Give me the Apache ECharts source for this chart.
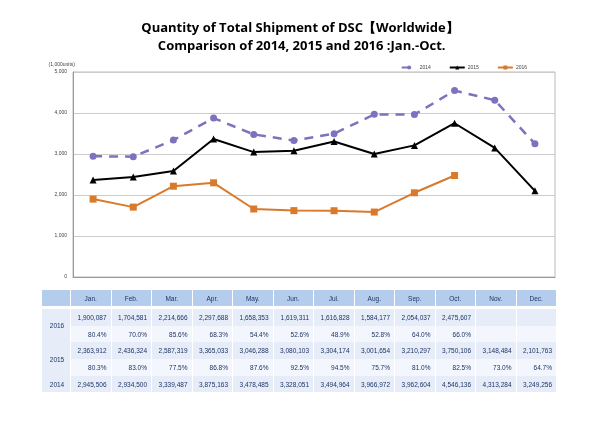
<!DOCTYPE html>
<html>
<head>
<meta charset="utf-8">
<script src="https://cdn.jsdelivr.net/npm/echarts@6/dist/echarts.min.js"></script>
<style>
  html, body { margin: 0; padding: 0; background: #fff; }
  #chart { position: absolute; left: 0; top: 0; width: 600px; height: 424px; }
  #tbl { position: absolute; left: 41px; top: 290px; width: 516px; border-collapse: separate; border-spacing: 1px 0;
         font-family: "Liberation Sans", Arial, sans-serif; font-size: 6.5px; color: #1d3466; table-layout: fixed; }
  #tbl td, #tbl th { height: 16.7px; padding: 0 4px 0 0; text-align: right; font-weight: normal; white-space: nowrap; }
  #tbl th { background: #b5cdec; text-align: center; padding: 0; height: 16px; border-bottom: 3px solid #fff; }
  #tbl td.yr { text-align: center; padding: 0 0 0 2px; }
  #tbl tr.a td { background: #e6edf8; }
  #tbl tr.b td { background: #f3f6fc; }
  #tbl tr.b td.yr, #tbl tr.a td.yr { background: #e6edf8; }
</style>
</head>
<body>
<div id="chart"></div>
<table id="tbl"></table>
<script>
(function () {
  const months = ['Jan.', 'Feb.', 'Mar.', 'Apr.', 'May.', 'Jun.', 'Jul.', 'Aug.', 'Sep.', 'Oct.', 'Nov.', 'Dec.']
  // units shipped
  const ship_2016 = [1900087, 1704581, 2214666, 2297688, 1658353, 1619311, 1616828, 1584177, 2054037, 2475607]
  const ship_2015 = [2363912, 2436324, 2587319, 3365033, 3046288, 3080103, 3304174, 3001654, 3210297, 3750106, 3148484, 2101763]
  const ship_2014 = [2945506, 2934500, 3339487, 3875163, 3478485, 3328051, 3494964, 3966972, 3962604, 4546136, 4313284, 3249256]
  // year-on-year %
  const pct_2016 = [80.4, 70.0, 85.6, 68.3, 54.4, 52.6, 48.9, 52.8, 64.0, 66.0]
  const pct_2015 = [80.3, 83.0, 77.5, 86.8, 87.6, 92.5, 94.5, 75.7, 81.0, 82.5, 73.0, 64.7]
  const y_ticks = [0, 1000, 2000, 3000, 4000, 5000]

  const fmt = v => v.toLocaleString('en-US')
  const k = arr => arr.map(v => v / 1000)

  var chart = echarts.init(document.getElementById('chart'))
  option = {
    animation: false,
    title: {
      text: 'Quantity of Total Shipment of DSC【Worldwide】\n Comparison of 2014, 2015 and 2016 :Jan.-Oct.',
      left: 'center',
      top: 14,
      textStyle: {
        fontFamily: 'Open Sans', fontWeight: 'bold', fontSize: 13, color: '#000', lineHeight: 18
      }
    },
    legend: {
      right: 68,
      top: 60,
      itemWidth: 15,
      itemHeight: 5,
      itemGap: 18,
      textStyle: { fontSize: 5, color: '#444', padding: [0, 0, 0, -2] },
      data: ['2014', '2015', '2016']
    },
    grid: { left: 73, right: 45, top: 72, bottom: 147, show: true, borderColor: '#bbb', borderWidth: 1 },
    xAxis: {
      type: 'category',
      data: months,
      axisLabel: { show: false },
      axisTick: { show: false },
      axisLine: { lineStyle: { color: '#999' } }
    },
    yAxis: {
      type: 'value',
      name: '(1,000units)',
      nameGap: 5,
      nameTextStyle: { fontSize: 5, color: '#444', align: 'right', padding: [0, -2, 0, 0] },
      min: y_ticks[0],
      max: y_ticks[y_ticks.length - 1],
      interval: 1000,
      axisLine: { show: true, lineStyle: { color: '#999' } },
      axisTick: { show: false },
      axisLabel: { fontSize: 5, color: '#444', margin: 6, formatter: v => fmt(v) },
      splitLine: { lineStyle: { color: '#ccc' } }
    },
    series: [{
      name: '2014',
      type: 'line',
      data: k(ship_2014),
      symbol: 'circle',
      symbolSize: 7,
      itemStyle: { color: '#7d72bd' },
      lineStyle: { width: 2.5, type: [9, 7], color: '#7d72bd' }
    }, {
      name: '2015',
      type: 'line',
      data: k(ship_2015),
      symbol: 'triangle',
      symbolSize: 7,
      itemStyle: { color: '#000' },
      lineStyle: { width: 2, color: '#000' }
    }, {
      name: '2016',
      type: 'line',
      data: k(ship_2016),
      symbol: 'rect',
      symbolSize: 7,
      itemStyle: { color: '#d97a2b' },
      lineStyle: { width: 2, color: '#d97a2b' }
    }]
  }
  chart.setOption(option)

  // data table below the chart
  const cell = (arr, i, f) => '<td>' + (arr[i] !== undefined ? f(arr[i]) : '') + '</td>'
  let html = '<colgroup><col style="width:28px">' + months.map(() => '<col>').join('') + '</colgroup>'
  html += '<tr><th></th>' + months.map(m => '<th>' + m + '</th>').join('') + '</tr>'
  html += '<tr class="a"><td class="yr" rowspan="2">2016</td>' + months.map((m, i) => cell(ship_2016, i, fmt)).join('') + '</tr>'
  html += '<tr class="b">' + months.map((m, i) => cell(pct_2016, i, v => v.toFixed(1) + '%')).join('') + '</tr>'
  html += '<tr class="a"><td class="yr" rowspan="2">2015</td>' + months.map((m, i) => cell(ship_2015, i, fmt)).join('') + '</tr>'
  html += '<tr class="b">' + months.map((m, i) => cell(pct_2015, i, v => v.toFixed(1) + '%')).join('') + '</tr>'
  html += '<tr class="a"><td class="yr">2014</td>' + months.map((m, i) => cell(ship_2014, i, fmt)).join('') + '</tr>'
  document.getElementById('tbl').innerHTML = html
})();
</script>
</body>
</html>
